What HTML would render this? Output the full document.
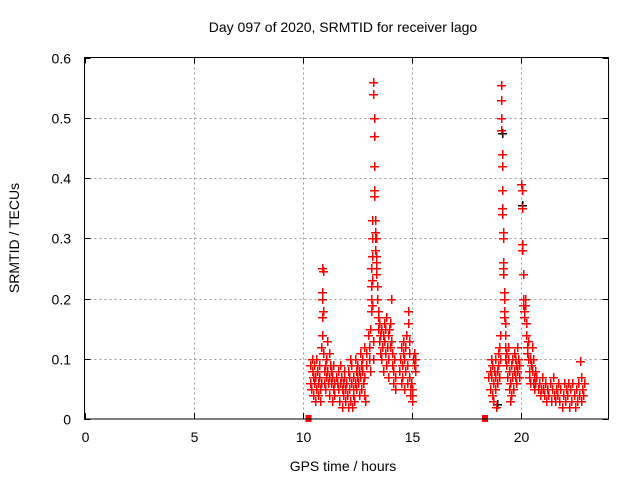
<!DOCTYPE html>
<html><head><meta charset="utf-8"><style>
body{margin:0;background:#fff}
svg text{font-family:"Liberation Sans",sans-serif;font-size:14px;fill:#000}
</style></head><body>
<svg id="chart" width="640" height="480" xmlns="http://www.w3.org/2000/svg">
<rect width="640" height="480" fill="#fff"/>
<g id="grid"></g>
<g id="ticks"></g>
<g id="marks" shape-rendering="crispEdges"></g>
<rect x="84.5" y="57.5" width="524" height="361.5" fill="none" stroke="#000" stroke-width="1"/>
<text x="343" y="32" text-anchor="middle">Day 097 of 2020, SRMTID for receiver lago</text>
<text x="343" y="471" text-anchor="middle">GPS time / hours</text>
<text transform="translate(19,238) rotate(-90)" text-anchor="middle">SRMTID / TECUs</text>
</svg>
<script>
const xTicks=[0,5,10,15,20];
const yTicks=[0,0.1,0.2,0.3,0.4,0.5,0.6];
const yTickLabels=["0","0.1","0.2","0.3","0.4","0.5","0.6"];
const redHours=[10.32,10.35,10.38,10.40,10.42,10.45,10.47,10.5,10.52,10.55,10.57,10.6,10.62,10.65,10.68,10.7,10.72,10.75,10.78,10.8,10.82,10.84,10.86,10.87,10.88,10.89,10.9,10.91,10.92,10.94,10.96,10.98,11.0,11.02,
11.05,11.08,11.1,11.12,11.15,11.18,11.2,11.22,11.25,11.28,11.3,11.32,11.35,11.38,11.4,11.42,
11.45,11.5,11.55,11.6,11.62,11.65,11.7,11.72,11.75,11.78,11.8,11.82,11.85,11.88,11.9,11.92,11.95,11.98,
12.0,12.05,12.08,12.1,12.12,12.15,12.18,12.2,12.22,12.25,12.28,12.3,12.32,12.35,12.38,12.4,12.42,12.45,12.48,12.5,12.52,12.55,12.58,12.6,12.62,12.65,12.68,12.7,12.72,12.75,12.78,12.8,12.82,12.85,12.88,12.9,
13.0,13.02,13.04,13.06,13.08,13.1,13.12,13.13,13.14,13.15,13.16,13.17,13.18,13.19,13.2,13.21,13.22,13.23,13.24,13.25,13.26,13.27,13.28,13.29,13.3,13.31,13.32,13.33,13.34,13.35,13.36,13.37,13.38,13.4,13.42,13.44,13.46,13.48,13.5,13.52,13.55,13.58,13.6,13.62,13.65,13.68,13.7,13.72,13.75,13.78,13.8,13.82,13.85,13.88,13.9,13.92,13.95,13.98,14.0,14.02,14.05,14.08,14.1,14.12,14.15,14.18,14.2,14.22,
14.4,14.45,14.48,14.5,14.52,14.55,14.58,14.6,14.62,14.65,14.68,14.7,14.72,14.75,14.78,14.8,14.82,14.84,14.86,14.88,14.9,14.92,14.95,14.98,15.0,15.02,15.05,15.08,15.1,15.12,15.15,
18.5,18.55,18.58,18.6,18.62,18.65,18.68,18.7,18.72,18.75,18.78,18.8,18.82,18.85,18.88,18.9,18.92,18.95,18.98,19.0,19.02,19.04,19.06,19.07,19.08,19.09,19.1,19.11,19.12,19.13,19.14,19.15,19.16,19.17,19.18,19.19,19.2,19.21,19.22,19.23,19.24,19.25,19.26,19.28,19.3,19.32,19.35,19.38,19.4,19.42,19.45,19.48,19.5,19.52,19.55,19.58,19.6,19.62,19.65,19.68,19.7,19.72,19.75,19.78,19.8,19.82,19.85,19.88,19.9,
20.0,20.02,20.04,20.05,20.06,20.07,20.08,20.1,20.12,20.14,20.16,20.18,20.2,20.22,20.25,20.28,20.3,20.32,20.35,20.38,20.4,20.42,20.45,20.48,20.5,20.52,20.55,20.58,20.6,20.62,20.65,20.7,20.75,20.8,20.85,20.9,20.95,21.0,21.05,21.1,21.15,21.2,21.25,21.3,21.35,21.4,21.45,21.5,21.55,21.6,21.65,21.7,21.75,21.8,21.85,21.9,21.95,22.0,22.05,22.1,22.15,22.2,22.25,22.3,22.35,22.4,22.45,22.5,22.55,22.6,22.65,22.7,22.72,22.75,22.8,22.85,22.9];
const redValues=[.06,.09,.05,.08,.1,.07,.04,.06,.09,.03,.07,.05,.1,.08,.06,.04,.07,.09,.05,.03,.06,.12,.14,.17,.2,.21,.25,.245,.18,.11,.08,.06,.09,.05,
.07,.1,.13,.08,.06,.11,.07,.04,.09,.06,.08,.03,.07,.05,.09,.06,
.04,.07,.06,.05,.08,.03,.06,.09,.07,.05,.02,.04,.06,.08,.07,.03,.05,.06,
.04,.08,.02,.05,.07,.1,.03,.06,.09,.02,.05,.04,.07,.03,.06,.1,.08,.05,.07,.09,.06,.04,.08,.11,.07,.09,.05,.08,.1,.06,.12,.07,.04,.03,.09,.11,
.14,.12,.1,.15,.08,.18,.2,.22,.25,.23,.27,.33,.3,.19,.13,.1,.56,.54,.5,.47,.42,.38,.37,.33,.31,.3,.28,.27,.26,.25,.24,.3,.22,.2,.17,.15,.18,.16,.13,.11,.14,.15,.1,.12,.14,.08,.16,.13,.11,.15,.09,.17,.12,.14,.07,.1,.15,.12,.16,.2,.13,.09,.11,.06,.08,.1,.05,.07,
.08,.1,.06,.12,.09,.07,.11,.13,.05,.1,.08,.12,.14,.06,.09,.16,.18,.11,.13,.07,.05,.04,.06,.03,.05,.04,.1,.09,.11,.08,.1,
.07,.08,.05,.1,.07,.04,.09,.06,.03,.08,.07,.1,.05,.02,.06,.08,.11,.09,.07,.12,.14,.1,.555,.53,.5,.48,.44,.42,.38,.35,.34,.31,.3,.26,.25,.24,.21,.2,.18,.17,.16,.14,.12,.1,.11,.09,.07,.1,.12,.08,.05,.03,.06,.09,.04,.07,.1,.05,.08,.11,.07,.1,.06,.09,.12,.08,.1,.07,.09,
.39,.38,.35,.29,.28,.24,.2,.19,.18,.17,.2,.19,.16,.14,.12,.11,.13,.1,.08,.07,.1,.06,.09,.12,.08,.06,.1,.07,.05,.08,.06,.07,.05,.06,.04,.05,.07,.05,.04,.06,.03,.05,.04,.06,.03,.05,.07,.04,.03,.05,.04,.06,.03,.05,.02,.04,.06,.03,.05,.04,.06,.02,.05,.03,.06,.04,.02,.05,.03,.06,.04,.097,.03,.07,.05,.04,.06];
const blackHours=[19.1,20.05,18.9];
const blackValues=[.475,.355,.025];
const gapHours=[10.27,18.35];
const gapValues=[0,0];

const X0=84.5,X1=608.5,Y0=419,Y1=57.5,XMAX=24,YMAX=0.6;
const sx=h=>X0+(X1-X0)*h/XMAX;
const sy=v=>Y0-(Y0-Y1)*v/YMAX;
const NS="http://www.w3.org/2000/svg";
const grid=document.getElementById('grid'),ticks=document.getElementById('ticks'),marks=document.getElementById('marks');
function mk(tag,attrs,parent){const e=document.createElementNS(NS,tag);for(const k in attrs)e.setAttribute(k,attrs[k]);parent.appendChild(e);return e;}
xTicks.forEach(t=>{const x=Math.round(sx(t))+0.5;
 if(t>0){const g=mk('line',{x1:x,x2:x,y1:Y1,y2:Y0,stroke:'#999','stroke-dasharray':'2,3'},grid);
 
 }
 const a=mk('line',{x1:x,x2:x,y1:Y0,y2:Y0-6,stroke:'#000'},ticks);
 
 
 const b=mk('line',{x1:x,x2:x,y1:Y1,y2:Y1+6,stroke:'#000'},ticks);
 
 
 const l=mk('text',{x:x,y:442,'text-anchor':'middle'},ticks);l.textContent=String(t);
 
 
});
yTicks.forEach((t,i)=>{const y=Math.round(sy(t))+0.5;
 if(t>0&&t<YMAX){const g=mk('line',{x1:X0,x2:X1,y1:y,y2:y,stroke:'#999','stroke-dasharray':'2,3'},grid);
 
 }
 const a=mk('line',{x1:X0,x2:X0+6,y1:y,y2:y,stroke:'#000'},ticks);
 
 
 const b=mk('line',{x1:X1,x2:X1-6,y1:y,y2:y,stroke:'#000'},ticks);
 
 
 const l=mk('text',{x:71,y:y+5,'text-anchor':'end'},ticks);l.textContent=yTickLabels[i];
 
 
});
function plus(h,v,color,name){const x=Math.round(sx(h)),y=Math.round(sy(v));
 const r1=mk('rect',{x:x-4,y:y,width:9,height:1.4,fill:color},marks);
 
 
 const r2=mk('rect',{x:x,y:y-4,width:1.4,height:9,fill:color},marks);
 
 }
blackHours.forEach((h,i)=>plus(h,blackValues[i],'#000','black-point'));
redHours.forEach((h,i)=>plus(h,redValues[i],'#ff0000','red-point'));
gapHours.forEach((h,i)=>{const x=sx(h),y=sy(gapValues[i]);
 const r=mk('rect',{x:x-3,y:y-4,width:6,height:7,fill:'#f00'},marks);
 
 });
</script>
</body></html>
